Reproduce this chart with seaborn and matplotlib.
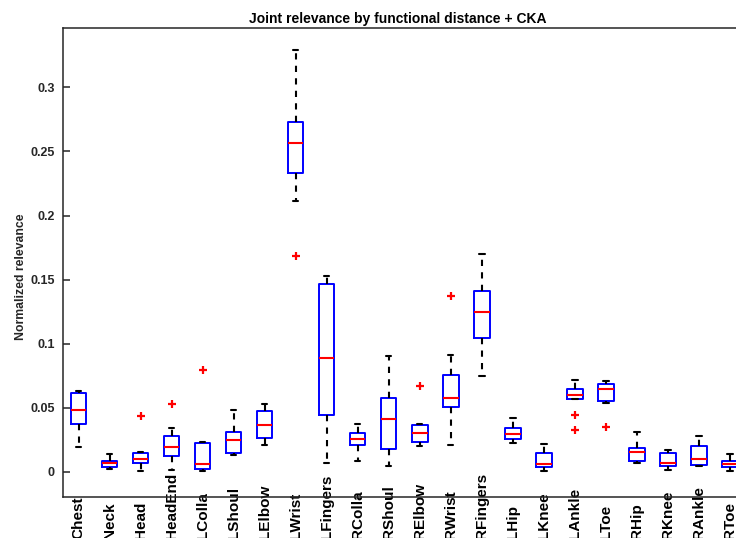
import numpy as np
import pandas as pd
import matplotlib
matplotlib.use("Agg")
import matplotlib.pyplot as plt
import seaborn as sns

# ---- data (five-number summaries) ----
joints = ["Chest", "Neck", "Head", "HeadEnd", "LColla", "LShoul", "LElbow", "LWrist",
          "LFingers", "RColla", "RShoul", "RElbow", "RWrist", "RFingers", "LHip", "LKnee",
          "LAnkle", "LToe", "RHip", "RKnee", "RAnkle", "RToe"]
whisker_low = [0.0198, 0.0021, 0.0005, 0.0016, 0.0005, 0.0130, 0.0213, 0.2112, 0.0068, 0.0083, 0.0047,
               0.0203, 0.0211, 0.0750, 0.0224, 0.0005, 0.0573, 0.0537, 0.0068, 0.0016, 0.0047, 0.0008]
q1 = [0.0375, 0.0042, 0.0073, 0.0125, 0.0026, 0.0151, 0.0263, 0.2331, 0.0448, 0.0208, 0.0177,
      0.0237, 0.0505, 0.1047, 0.0255, 0.0036, 0.0573, 0.0557, 0.0086, 0.0047, 0.0057, 0.0042]
median = [0.0484, 0.0073, 0.0104, 0.0198, 0.0063, 0.0250, 0.0370, 0.2563, 0.0891, 0.0260, 0.0417,
          0.0302, 0.0580, 0.1245, 0.0297, 0.0063, 0.0599, 0.0651, 0.0156, 0.0073, 0.0099, 0.0063]
q3 = [0.0615, 0.0086, 0.0151, 0.0281, 0.0224, 0.0313, 0.0479, 0.2727, 0.1466, 0.0305, 0.0580,
      0.0365, 0.0758, 0.1414, 0.0341, 0.0146, 0.0651, 0.0685, 0.0185, 0.0151, 0.0203, 0.0088]
whisker_high = [0.0630, 0.0140, 0.0159, 0.0346, 0.0234, 0.0484, 0.0529, 0.3290, 0.1526, 0.0375, 0.0901,
                0.0375, 0.0914, 0.1700, 0.0424, 0.0219, 0.0714, 0.0711, 0.0315, 0.0172, 0.0284, 0.0143]

outlier_joint = ["Head", "HeadEnd", "LColla", "LWrist", "RElbow", "RWrist", "LAnkle", "LAnkle", "LToe"]
outlier_value = [0.0440, 0.0529, 0.0797, 0.1688, 0.0672, 0.1370, 0.0448, 0.0328, 0.0349]

yticks = [0, 0.05, 0.1, 0.15, 0.2, 0.25, 0.3]
ytick_labels = ["0", "0.05", "0.1", "0.15", "0.2", "0.25", "0.3"]

title = "Joint relevance by functional distance + CKA"
ylabel = "Normalized relevance"

# ---- build long table ----
rows = []
for j, lo, a, m, b, hi in zip(joints, whisker_low, q1, median, q3, whisker_high):
    for v in (lo, a, m, b, hi):
        rows.append((j, v))
df = pd.DataFrame(rows, columns=["joint", "value"])
out_df = pd.DataFrame({"joint": outlier_joint, "value": outlier_value})

sns.set_theme(style="white")
plt.rcParams["font.family"] = ["Liberation Sans", "DejaVu Sans"]
plt.rcParams["font.weight"] = "bold"
plt.rcParams["axes.labelweight"] = "bold"

fig = plt.figure(figsize=(7.36, 5.38), dpi=100)
ax = fig.add_axes([63 / 736, 41 / 538, 682.5 / 736, 469 / 538])

sns.boxplot(data=df, x="joint", y="value", order=joints, whis=(0, 100), width=0.5,
            fill=False, color="blue", linewidth=1.4, showfliers=False,
            medianprops=dict(color="red", linewidth=1.5),
            whiskerprops=dict(color="black", linestyle=(0, (3, 3)), linewidth=1.5),
            capprops=dict(color="black", linewidth=1.5),
            ax=ax)

# narrow the caps a little (MATLAB-style short caps)
for ln in ax.lines:
    xd = np.asarray(ln.get_xdata(), dtype=float)
    yd = np.asarray(ln.get_ydata(), dtype=float)
    if ln.get_color() == "black" and len(xd) == 2 and yd[0] == yd[1] and xd[0] != xd[1]:
        c = xd.mean()
        ln.set_xdata(c + (xd - c) * 0.7)

sns.stripplot(data=out_df, x="joint", y="value", order=joints, jitter=False,
              marker="+", color="red", size=5.5, linewidth=1.6, ax=ax)

ax.set_xlim(-0.5, len(joints) - 0.5)
ax.set_ylim(-0.0195, 0.3463)
ax.set_yticks(yticks)
ax.set_yticklabels(ytick_labels)

for s in ax.spines.values():
    s.set_color("#262626")
    s.set_linewidth(1.1)

ax.tick_params(axis="y", left=True, direction="in", length=5, width=1.1, color="#262626",
               labelsize=9, pad=5.8, labelcolor="#262626")
ax.tick_params(axis="x", bottom=False, length=0, labelsize=11, pad=30, labelrotation=90,
               labelcolor="black")
for lbl in ax.get_xticklabels():
    lbl.set_va("bottom")
    lbl.set_fontweight("bold")
for lbl in ax.get_yticklabels():
    lbl.set_fontweight("bold")

ax.set_xlabel("")
ax.set_ylabel(ylabel, fontsize=8.8, fontweight="bold", color="#262626")
ax.yaxis.set_label_coords(-0.053, 0.469)
ax.set_title(title, fontsize=10, fontweight="bold", color="black", x=0.49, pad=3.6)

fig.savefig("out.png", dpi=100)
